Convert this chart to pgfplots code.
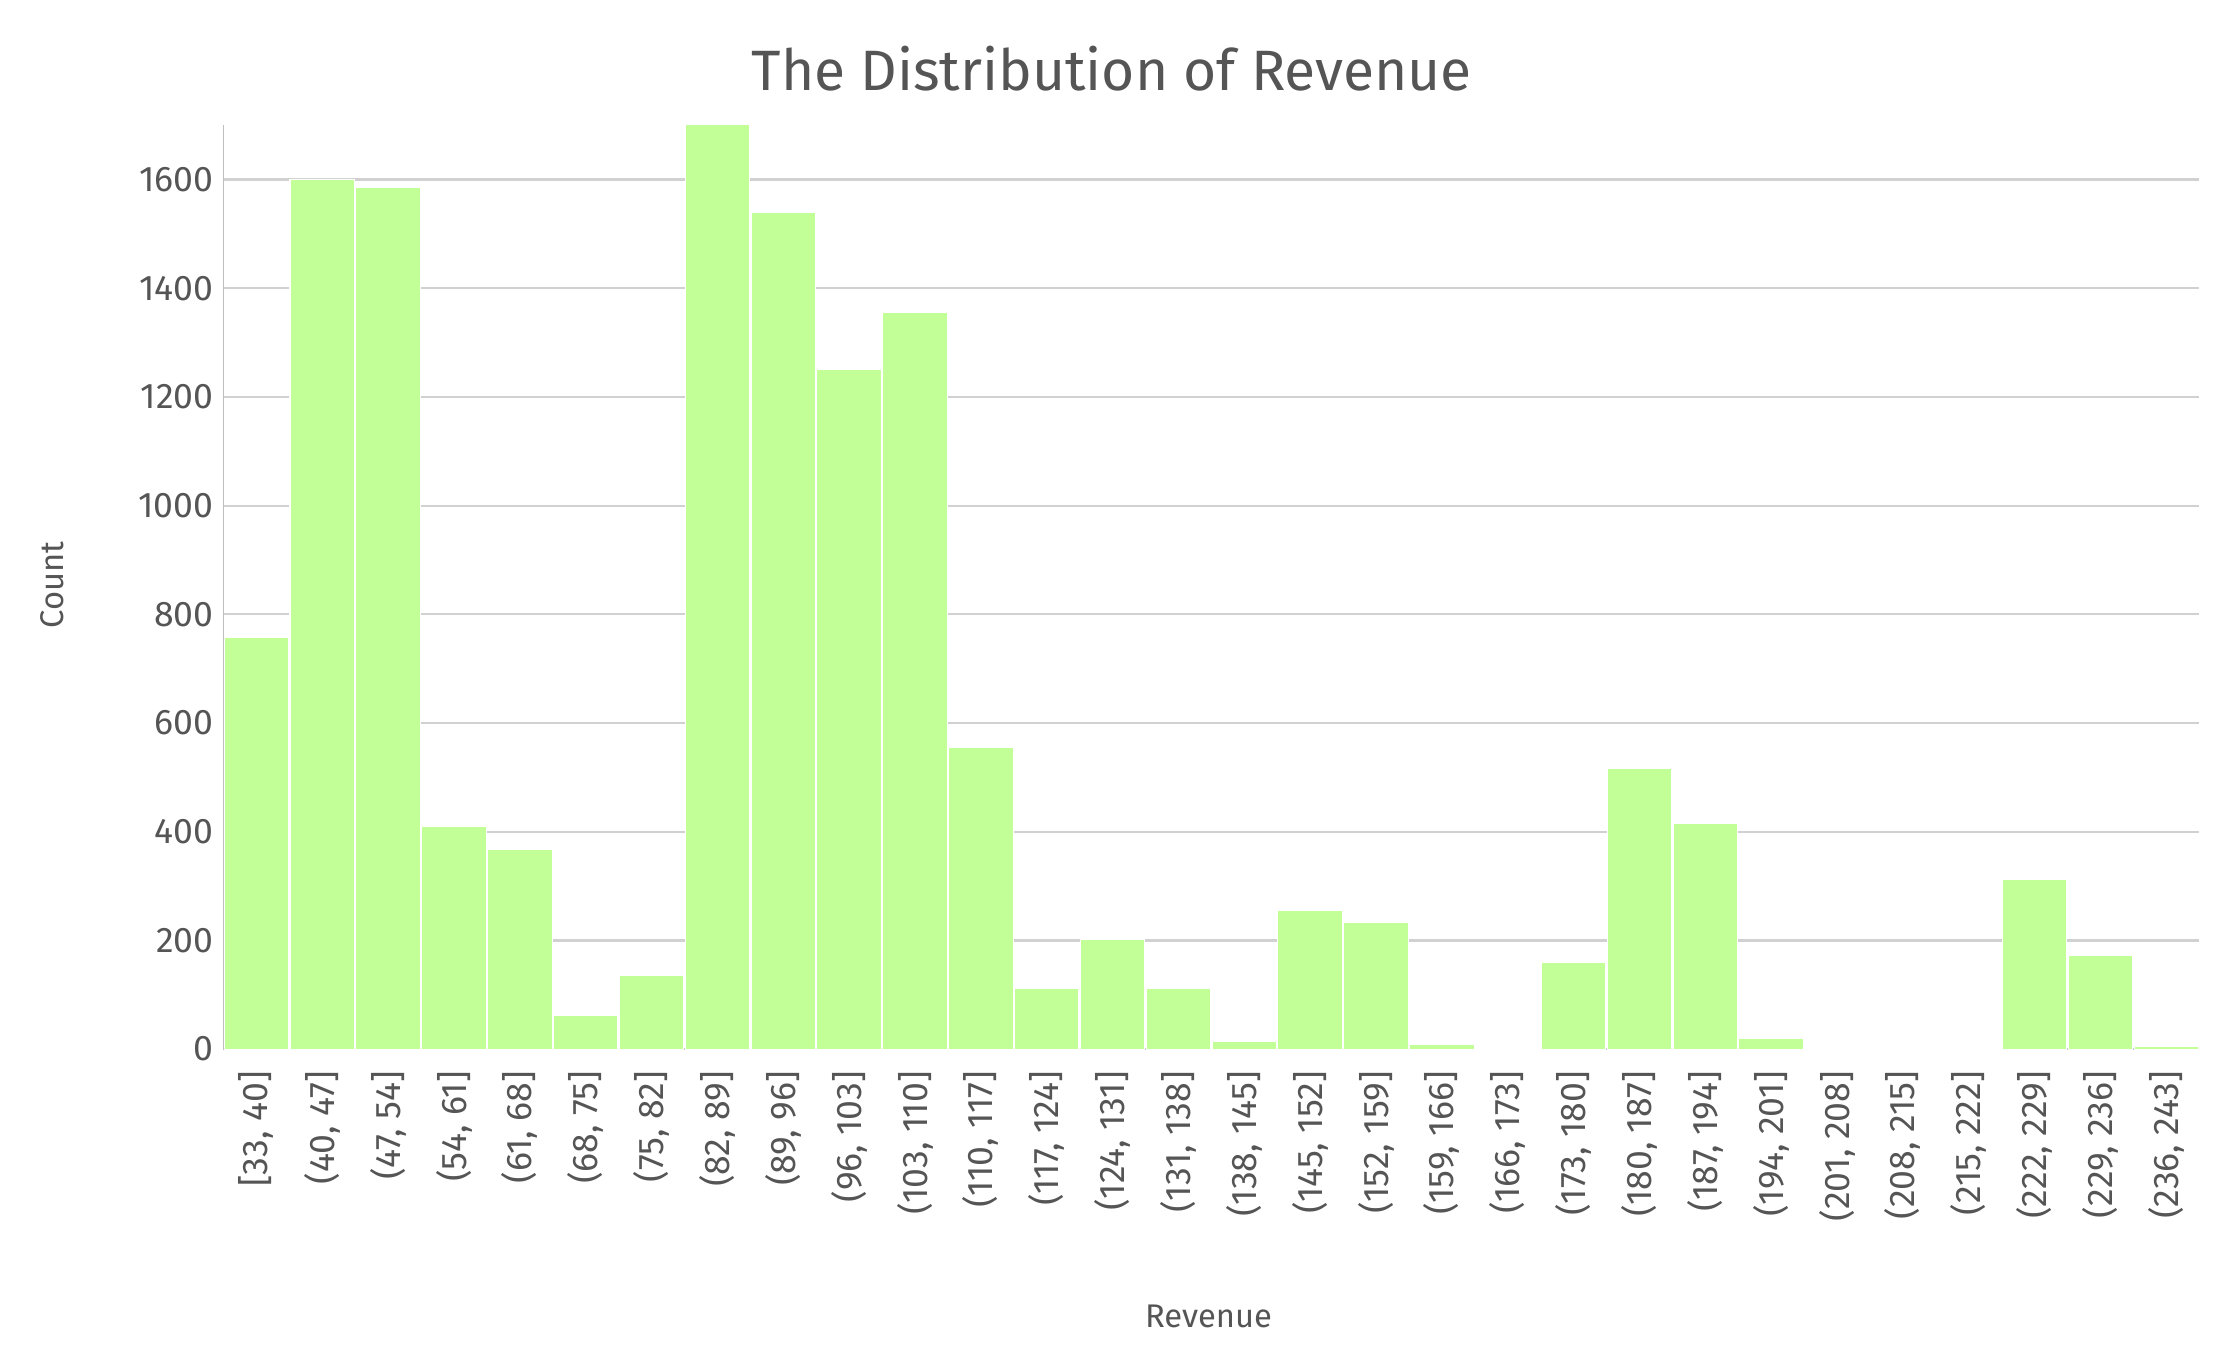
\documentclass[border=0pt]{standalone}
\usepackage{pgfplots}
\pgfplotsset{compat=1.18}
\usepackage{fontspec}
\setmainfont{Fira Sans}
\definecolor{barc}{HTML}{C2FF96}
\definecolor{txt}{HTML}{555555}
\begin{document}
\begin{tikzpicture}[x=1pt,y=1pt]
\useasboundingbox (-78.5,-110.5) rectangle (705.5,368.5);
\begin{axis}[at={(0,0)},anchor=south west,scale only axis,width=694pt,height=324.5pt,
 ymin=0,ymax=1700,xmin=-0.5,xmax=29.5,
 ybar,bar width=0.98,bar shift=0pt,
 axis x line*=bottom, axis y line*=left,
 axis line style={draw=black!25},
 ymajorgrids,grid style={black!18,line width=0.8pt},
 ytick={0,200,...,1600},
 tick style={draw=none},
 xtick={0,...,29},
 xticklabels={{[33, 40]},{(40, 47]},{(47, 54]},{(54, 61]},{(61, 68]},{(68, 75]},{(75, 82]},{(82, 89]},{(89, 96]},{(96, 103]},{(103, 110]},{(110, 117]},{(117, 124]},{(124, 131]},{(131, 138]},{(138, 145]},{(145, 152]},{(152, 159]},{(159, 166]},{(166, 173]},{(173, 180]},{(180, 187]},{(187, 194]},{(194, 201]},{(201, 208]},{(208, 215]},{(215, 222]},{(222, 229]},{(229, 236]},{(236, 243]}},
 x tick label style={rotate=90,anchor=east,font=\fontsize{12.5}{14}\selectfont,text=txt},
 y tick label style={font=\fontsize{12.5}{14}\selectfont,text=txt},
 /pgf/number format/assume math mode=true,
 /pgf/number format/1000 sep={},
]
\addplot[fill=barc,draw=white,line width=0.4pt] coordinates {
(0,757)(1,1600)(2,1586)(3,410)(4,368)(5,62)(6,135)(7,1710)(8,1540)(9,1250)
(10,1355)(11,556)(12,112)(13,202)(14,112)(15,15)(16,255)(17,233)(18,8)(19,1)
(20,160)(21,517)(22,415)(23,20)(24,2)(25,1)(26,1)(27,312)(28,172)(29,5)};
\end{axis}
\node[text=txt,font=\fontsize{20}{24}\selectfont] at (312,344.5) {The Distribution of Revenue};
\node[text=txt,font=\fontsize{11.5}{13}\selectfont] at (346,-94) {Revenue};
\node[text=txt,font=\fontsize{11.5}{13}\selectfont,rotate=90] at (-60,163) {Count};
\end{tikzpicture}
\end{document}
